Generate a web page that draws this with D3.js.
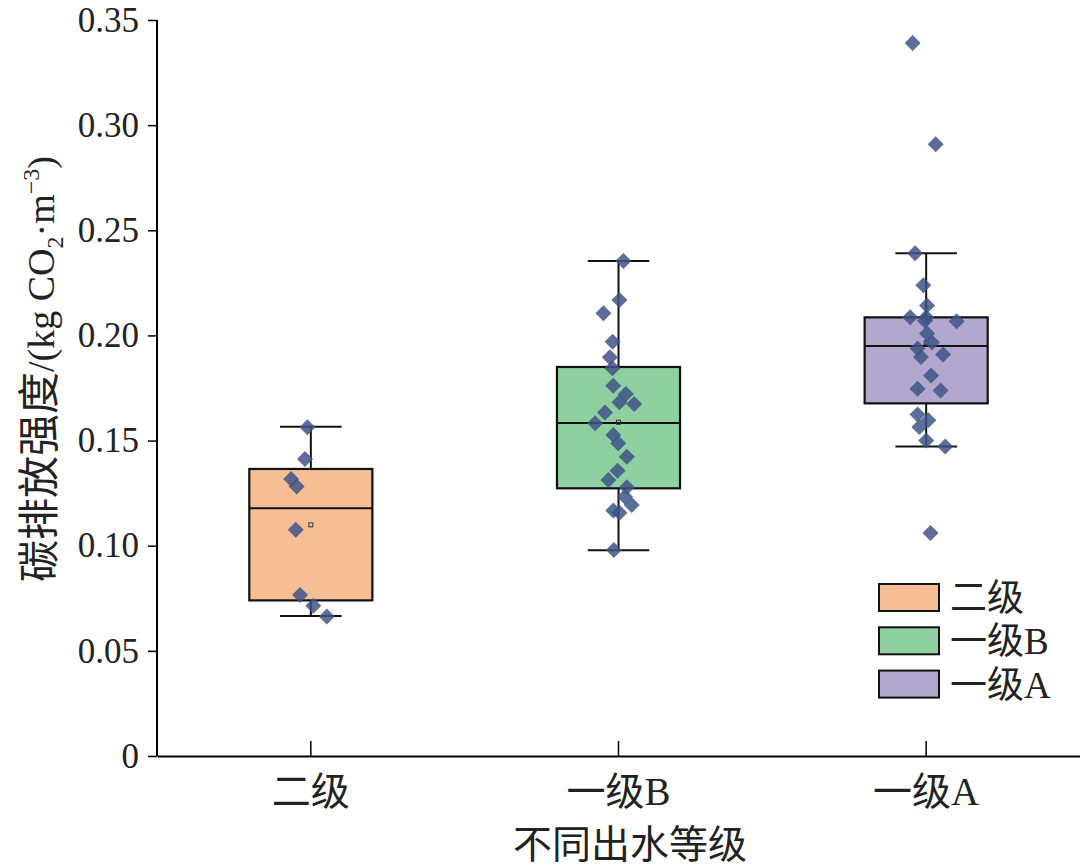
<!DOCTYPE html>
<html>
<head>
<meta charset="utf-8">
<script src="https://cdn.jsdelivr.net/npm/d3@7"></script>
<style>
  body { margin: 0; background: #fff; }
  text { font-family: "Liberation Serif", "Noto Sans CJK SC", serif; }
</style>
</head>
<body>
<div class="chart"></div>
<script>
// categories and colours
var categories = ["二级", "一级B", "一级A"];
var boxColors = ["#f6be95", "#8fd0a0", "#b2a7cc"];

// box statistics
var whiskerLow = [0.0666, 0.0978, 0.1472];
var q1 = [0.0740, 0.1273, 0.1677];
var median = [0.1178, 0.1584, 0.1950];
var q3 = [0.1365, 0.1850, 0.2086];
var whiskerHigh = [0.1566, 0.2354, 0.2391];

// raw points per group
var values2 = [0.1563, 0.1412, 0.1317, 0.1281, 0.1076, 0.0766, 0.0715, 0.0663];
var valuesB = [0.2354, 0.2168, 0.2105, 0.1970, 0.1896, 0.1844, 0.1761, 0.1721, 0.1682, 0.1674,
               0.1634, 0.1582, 0.1527, 0.1487, 0.1423, 0.1357, 0.1313, 0.1278, 0.1233, 0.1194,
               0.1167, 0.1157, 0.0980];
var valuesA = [0.3391, 0.2909, 0.2391, 0.2239, 0.2142, 0.2086, 0.2086, 0.2070, 0.2067, 0.2009,
               0.1966, 0.1938, 0.1898, 0.1909, 0.1810, 0.1746, 0.1738, 0.1624, 0.1597, 0.1564,
               0.1500, 0.1472, 0.1061];

// horizontal jitter of each point, as a fraction of the category band
var jitter2 = [-0.011, -0.019, -0.064, -0.046, -0.049, -0.035, 0.008, 0.052];
var jitterB = [0.016, 0.003, -0.049, -0.019, -0.028, -0.020, -0.017, 0.024, 0.003, 0.051,
               -0.044, -0.076, -0.017, -0.001, 0.027, -0.003, -0.033, 0.027, 0.021, 0.043,
               -0.017, 0.003, -0.015];
var jitterA = [-0.044, 0.031, -0.036, -0.009, 0.003, -0.052, 0.000, -0.004, 0.099, 0.003,
               0.019, -0.028, -0.017, 0.055, 0.016, -0.028, 0.047, -0.028, 0.007, -0.022,
               0.000, 0.062, 0.014];

var yTicks = [0, 0.05, 0.10, 0.15, 0.20, 0.25, 0.30, 0.35];

var groups = [
  { values: values2, jitter: jitter2 },
  { values: valuesB, jitter: jitterB },
  { values: valuesA, jitter: jitterA }
];

var svgWidth = 1080, svgHeight = 866;
var margin = { top: 20, right: 0, bottom: 110, left: 157 };
var width = svgWidth - margin.left - margin.right;
var height = svgHeight - margin.top - margin.bottom;

var svg = d3.select(".chart").append("svg")
  .attr("width", svgWidth)
  .attr("height", svgHeight);

var chart = svg.append("g")
  .attr("transform", "translate(" + margin.left + "," + margin.top + ")");

var xScale = d3.scaleBand().domain(categories).range([0, width]).padding(0);
var yScale = d3.scaleLinear().domain([0, 0.35]).range([height, 0]);

var bw = xScale.bandwidth();
var boxW = bw * 0.40;
var capW = bw * 0.20;

// boxes
var boxes = chart.selectAll(".box")
  .data(categories)
  .enter()
  .append("g")
  .attr("class", "box")
  .attr("transform", function(d) { return "translate(" + (xScale(d) + bw / 2) + ",0)"; });

boxes.append("line")
  .attr("x1", 0).attr("x2", 0)
  .attr("y1", function(d, i) { return yScale(whiskerLow[i]); })
  .attr("y2", function(d, i) { return yScale(whiskerHigh[i]); })
  .attr("stroke", "#111").attr("stroke-width", 2);

boxes.selectAll(".cap")
  .data(function(d, i) { return [whiskerLow[i], whiskerHigh[i]]; })
  .enter()
  .append("line")
  .attr("x1", -capW / 2).attr("x2", capW / 2)
  .attr("y1", function(v) { return yScale(v); })
  .attr("y2", function(v) { return yScale(v); })
  .attr("stroke", "#111").attr("stroke-width", 2);

boxes.append("rect")
  .attr("x", -boxW / 2)
  .attr("width", boxW)
  .attr("y", function(d, i) { return yScale(q3[i]); })
  .attr("height", function(d, i) { return yScale(q1[i]) - yScale(q3[i]); })
  .attr("fill", function(d, i) { return boxColors[i]; })
  .attr("stroke", "#111").attr("stroke-width", 2.2);

boxes.append("line")
  .attr("x1", -boxW / 2).attr("x2", boxW / 2)
  .attr("y1", function(d, i) { return yScale(median[i]); })
  .attr("y2", function(d, i) { return yScale(median[i]); })
  .attr("stroke", "#111").attr("stroke-width", 2);

// mean marker
boxes.append("rect")
  .attr("x", -2)
  .attr("y", function(d, i) { return yScale(d3.mean(groups[i].values)) - 2; })
  .attr("width", 4).attr("height", 4)
  .attr("fill", "none").attr("stroke", "#333").attr("stroke-width", 1);

// points
var diamond = d3.symbol().type(d3.symbolSquare).size(128);
groups.forEach(function(g, gi) {
  var cx = xScale(categories[gi]) + bw / 2;
  chart.selectAll(".pt" + gi)
    .data(g.values)
    .enter()
    .append("path")
    .attr("class", "pt" + gi)
    .attr("d", diamond)
    .attr("transform", function(v, i) {
      return "translate(" + (cx + g.jitter[i] * bw) + "," + yScale(v) + ") rotate(45)";
    })
    .attr("fill", "#3e5386")
    .attr("fill-opacity", 0.85);
});

// axes
var leftAxis = d3.axisLeft(yScale)
  .tickValues(yTicks)
  .tickSize(9)
  .tickPadding(9)
  .tickFormat(function(d) { return d === 0 ? "0" : d3.format(".2f")(d); });

var yAxisG = chart.append("g").call(leftAxis);
yAxisG.select(".domain").attr("stroke-width", 2).attr("d", "M0," + height + "V0");
yAxisG.selectAll(".tick line").attr("stroke-width", 1.5);
yAxisG.selectAll(".tick text")
  .style("font-size", "35px")
  .attr("fill", "#222");

var bottomAxis = d3.axisBottom(xScale).tickSize(-15).tickSizeOuter(0);
var xAxisG = chart.append("g")
  .attr("transform", "translate(0," + height + ")")
  .call(bottomAxis);
xAxisG.select(".domain").attr("stroke-width", 2);
xAxisG.selectAll(".tick line").attr("stroke-width", 1.5);
xAxisG.selectAll(".tick text")
  .attr("y", 49).attr("dy", 0)
  .style("font-size", "39px")
  .attr("fill", "#222");

// axis titles
svg.append("text")
  .attr("x", 630)
  .attr("y", 858)
  .attr("text-anchor", "middle")
  .style("font-size", "39px")
  .attr("fill", "#222")
  .text("不同出水等级");

var yTitle = svg.append("text")
  .attr("transform", "translate(54,369) rotate(-90)")
  .attr("text-anchor", "middle")
  .style("font-size", "38px")
  .attr("fill", "#222");
yTitle.append("tspan").style("font-size", "42px").text("碳排放强度");
yTitle.append("tspan").text("/(kg CO");
yTitle.append("tspan").attr("dy", 9).style("font-size", "24px").text("2");
yTitle.append("tspan").attr("dy", -9).text("·m");
yTitle.append("tspan").attr("dy", -15).style("font-size", "24px").text("−3");
yTitle.append("tspan").attr("dy", 15).text(")");

// legend
var legend = svg.selectAll(".legend")
  .data(categories)
  .enter()
  .append("g")
  .attr("class", "legend")
  .attr("transform", function(d, i) { return "translate(879," + (584 + i * 43.3) + ")"; });

legend.append("rect")
  .attr("width", 60).attr("height", 27)
  .attr("fill", function(d, i) { return boxColors[i]; })
  .attr("stroke", "#111").attr("stroke-width", 2);

legend.append("text")
  .attr("x", 71).attr("y", 27)
  .style("font-size", "37px")
  .attr("fill", "#222")
  .text(function(d) { return d; });
</script>
</body>
</html>
